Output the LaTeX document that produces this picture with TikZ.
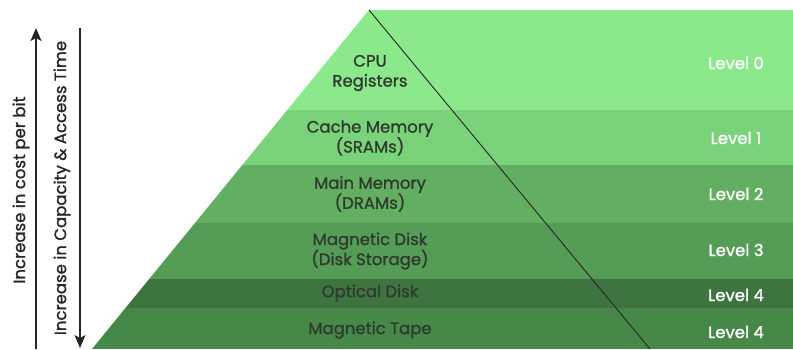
\documentclass[tikz,border=0pt]{standalone}
\usepackage{fontspec}
\setmainfont{Poppins}[FakeBold=1.2]
\usetikzlibrary{arrows.meta}
\tikzset{>={Stealth[length=13pt,width=11pt,inset=3pt]}}
\definecolor{lev0}{HTML}{8BE88B}
\definecolor{lev1}{HTML}{7AD27A}
\definecolor{lev2}{HTML}{62AF62}
\definecolor{lev3}{HTML}{559D57}
\definecolor{lev4}{HTML}{3D7440}
\definecolor{lev5}{HTML}{468848}
\definecolor{memtext}{HTML}{2E3B2E}
\tikzset{
  mem/.style={align=center,font=\fontsize{16.5}{20}\selectfont,text=memtext},
  lvl/.style={font=\fontsize{16.5}{20}\selectfont,text=white},
  side/.style={rotate=90,font=\fontsize{16.5}{20}\selectfont,text=black!85}
}

\begin{document}
\begin{tikzpicture}[x=1pt,y=-1pt]
  \useasboundingbox (0,0) rectangle (793,349);
  \coordinate (apex) at (369,10);
  \coordinate (foot) at (92,349);
  \coordinate (tip) at (650,349);
  % bands
  \begin{scope}
    \clip (apex) -- (793,10) -- (793,349) -- (foot) -- cycle;
    \foreach \ya/\yb/\col in {10/110/lev0,110/165/lev1,165/223/lev2,223/279/lev3,279/308/lev4,308/349/lev5}
      \fill[\col] (0,\ya) rectangle (793,\yb);
  \end{scope}
  \draw[black!85,line width=0.9pt] (apex) -- (tip);
  % pyramid labels
  \node[mem] (cpu) at (370,73) {CPU\\Registers};
  \node[mem] (cache) at (370,138) {Cache Memory\\(SRAMs)};
  \node[mem] (main) at (370,194) {Main Memory\\(DRAMs)};
  \node[mem] (disk) at (370,251) {Magnetic Disk\\(Disk Storage)};
  \node[mem] (optical) at (370,293) {Optical Disk};
  \node[mem] (tape) at (370,330) {Magnetic Tape};
  % levels
  \node[lvl] (l0) at (736,63) {Level 0};
  \node[lvl] (l1) at (736,138) {Level 1};
  \node[lvl] (l2) at (736,194) {Level 2};
  \node[lvl] (l3) at (736,250) {Level 3};
  \node[lvl] (l4) at (736,295) {Level 4};
  \node[lvl] (l5) at (736,332) {Level 4};
  % arrows on the left
  \coordinate (costlo) at (36,349);
  \coordinate (costhi) at (36,28);
  \coordinate (caphi) at (80,28);
  \coordinate (caplo) at (80,348);
  \draw[->,black!85,line width=1.3pt] (costlo) -- (costhi);
  \draw[->,black!85,line width=1.3pt] (caphi) -- (caplo);
  \node[side] (cost) at (21,190) {Increase in cost per bit};
  \node[side] (cap) at (62,188) {Increase in Capacity \& Access Time};
\end{tikzpicture}
\end{document}
